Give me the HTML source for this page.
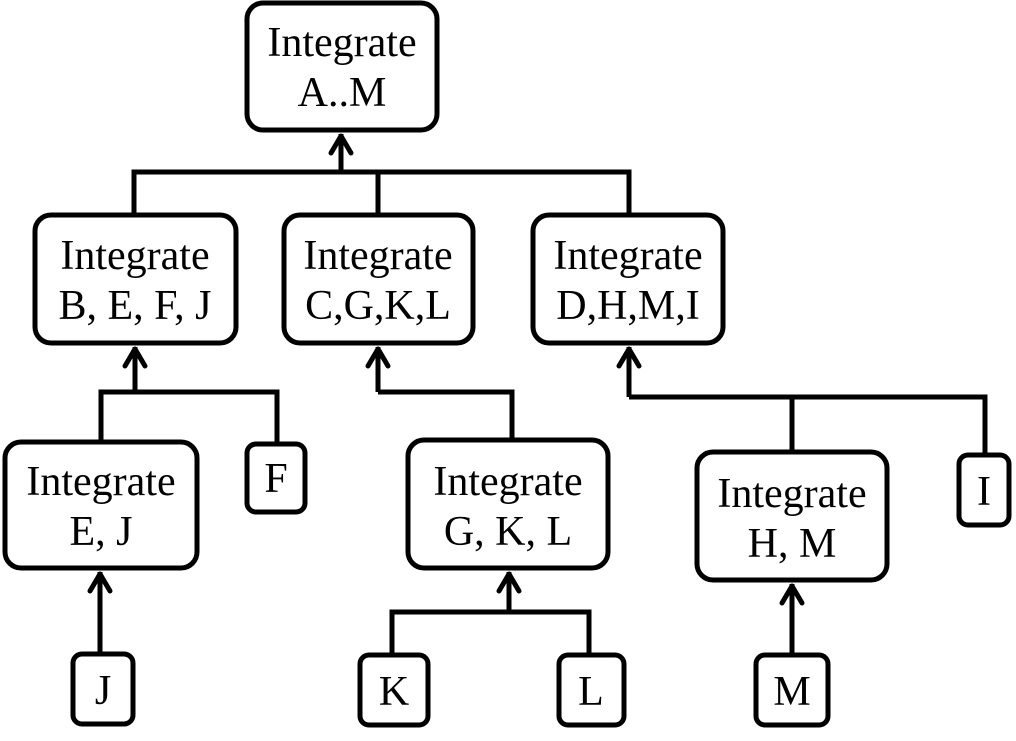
<!DOCTYPE html>
<html><head><meta charset="utf-8"><style>
html,body{margin:0;padding:0;background:#fff;}
svg{display:block;}
text{font-family:"Liberation Serif",serif;font-size:42px;fill:#000;text-anchor:middle;}
</style></head><body>
<svg width="1016" height="741" viewBox="0 0 1016 741" xmlns="http://www.w3.org/2000/svg">
<g fill="none" stroke="#000" stroke-width="5" stroke-linejoin="round">
<rect x="247" y="3" width="190" height="127" rx="16"/>
<rect x="35" y="215" width="201" height="128" rx="16"/>
<rect x="284" y="215" width="189" height="128" rx="16"/>
<rect x="533" y="215" width="190" height="128" rx="16"/>
<rect x="5" y="442" width="192" height="126" rx="16"/>
<rect x="247" y="444" width="58" height="68" rx="9"/>
<rect x="408" y="440" width="200" height="128" rx="16"/>
<rect x="697" y="452" width="190" height="128" rx="16"/>
<rect x="959" y="455" width="50" height="70" rx="9"/>
<rect x="73" y="654" width="60" height="70" rx="9"/>
<rect x="360" y="655" width="68" height="70" rx="9"/>
<rect x="559" y="655" width="65" height="70" rx="9"/>
<rect x="756" y="655" width="72" height="70" rx="9"/>
</g>
<g fill="none" stroke="#000" stroke-width="5">
<path d="M341 172V134 M134 215V172H629V215 M378 172V215"/>
<path d="M135 392V347 M101 442V392H277V444"/>
<path d="M378 392V347 M378 392H512V440"/>
<path d="M629 397V347 M629 397H985V455 M792 397V452"/>
<path d="M100 654V572"/>
<path d="M509 612V572 M392 655V612H589V655"/>
<path d="M792 655V584"/>
</g>
<g fill="none" stroke="#000" stroke-width="5" stroke-linecap="round" stroke-linejoin="round">
<path d="M331 153L341 136L351 153"/>
<path d="M125 366L135 349L145 366"/>
<path d="M368 366L378 349L388 366"/>
<path d="M619 366L629 349L639 366"/>
<path d="M90 591L100 574L110 591"/>
<path d="M499 591L509 574L519 591"/>
<path d="M782 603L792 586L802 603"/>
</g>
<text x="342" y="56">Integrate</text><text x="342" y="106">A..M</text>
<text x="135" y="269">Integrate</text><text x="135" y="319">B, E, F, J</text>
<text x="378" y="269">Integrate</text><text x="378" y="319">C,G,K,L</text>
<text x="628" y="269">Integrate</text><text x="628" y="319">D,H,M,I</text>
<text x="101" y="495">Integrate</text><text x="101" y="545">E, J</text>
<text x="276" y="492">F</text>
<text x="508" y="495">Integrate</text><text x="508" y="545">G, K, L</text>
<text x="792" y="507">Integrate</text><text x="792" y="557">H, M</text>
<text x="984" y="505">I</text>
<text x="103" y="704">J</text>
<text x="394" y="705">K</text>
<text x="591" y="705">L</text>
<text x="792" y="705">M</text>
</svg>
</body></html>
